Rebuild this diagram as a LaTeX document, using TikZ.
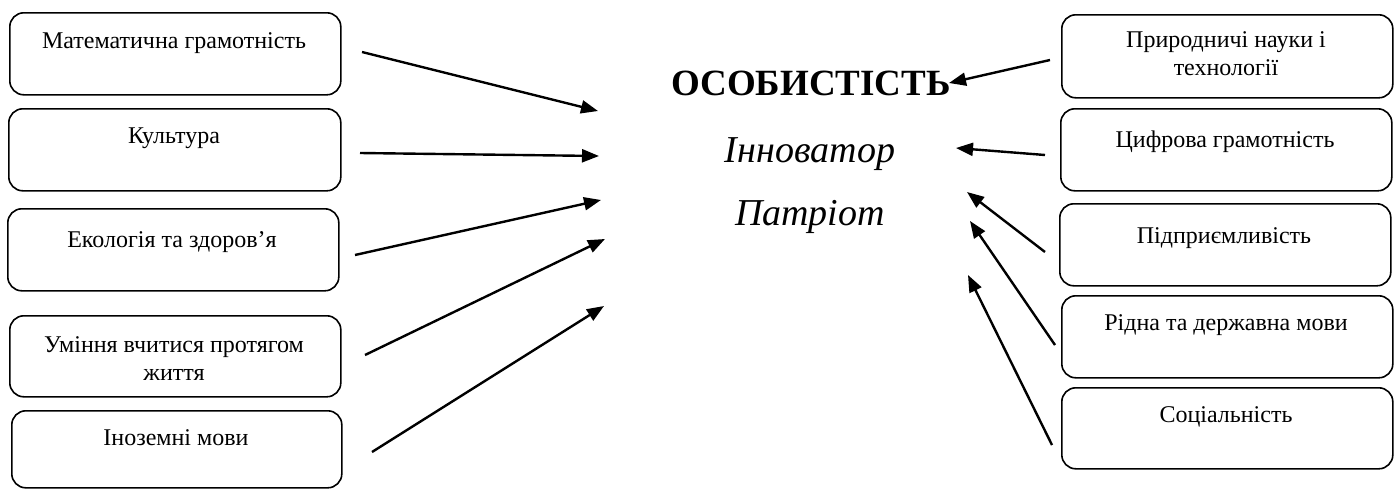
\documentclass[tikz,border=0pt]{standalone}
\usepackage{fontspec}
\setmainfont{Liberation Serif}
\usetikzlibrary{arrows.meta}
\begin{document}
\begin{tikzpicture}[x=1pt,y=-1pt,
  box/.style={draw, rounded corners=14pt, line width=1.6pt, inner sep=0pt, anchor=north west},
  lbl/.style={font=\fontsize{24}{28}\selectfont, inner sep=0pt, anchor=base, align=center},
  arr/.style={line width=2.4pt, -{Triangle[length=17pt,width=13pt]}},
  title/.style={font=\fontsize{37}{40}\selectfont\bfseries, inner sep=0pt, anchor=base},
  role/.style={font=\fontsize{38}{40}\selectfont\itshape, inner sep=0pt, anchor=base}]
\useasboundingbox (0,0) rectangle (1397,488);
% left boxes
\node[box, minimum width=331pt, minimum height=82pt] (L1) at (9,12) {};
\node[box, minimum width=332pt, minimum height=82pt] (L2) at (8,108) {};
\node[box, minimum width=331pt, minimum height=82pt] (L3) at (7,208) {};
\node[box, minimum width=331pt, minimum height=81pt] (L4) at (9,315) {};
\node[box, minimum width=330pt, minimum height=77pt] (L5) at (11,410) {};
% right boxes
\node[box, minimum width=331pt, minimum height=83pt] (R1) at (1061,14) {};
\node[box, minimum width=331pt, minimum height=82pt] (R2) at (1060,108) {};
\node[box, minimum width=331pt, minimum height=82pt] (R3) at (1059,203) {};
\node[box, minimum width=331pt, minimum height=82pt] (R4) at (1061,295) {};
\node[box, minimum width=331pt, minimum height=81pt] (R5) at (1061,387) {};
% labels
\node[lbl] (tL1) at (174,48) {Математична грамотність};
\node[lbl] (tL2) at (174,143) {Культура};
\node[lbl] (tL3) at (172,247) {Екологія та здоров’я};
\node[lbl] (tL4a) at (174,352) {Уміння вчитися протягом};
\node[lbl] (tL4b) at (174,380) {життя};
\node[lbl] (tL5) at (176,445) {Іноземні мови};
\node[lbl] (tR1a) at (1226,47) {Природничі науки і};
\node[lbl] (tR1b) at (1226,75) {технології};
\node[lbl] (tR2) at (1225,147) {Цифрова грамотність};
\node[lbl] (tR3) at (1224,243) {Підприємливість};
\node[lbl] (tR4) at (1226,330) {Рідна та державна мови};
\node[lbl] (tR5) at (1226,422) {Соціальність};
% centre
\node[title] (T) at (811,95) {ОСОБИСТІСТЬ};
\node[role] (I) at (810,162) {Інноватор};
\node[role] (P) at (810,225) {Патріот};
% arrow end points
\coordinate (a1) at (362,52);  \coordinate (b1) at (598,111);
\coordinate (a2) at (360,153); \coordinate (b2) at (599,156);
\coordinate (a3) at (355,255); \coordinate (b3) at (601,200);
\coordinate (a4) at (365,355); \coordinate (b4) at (605,239);
\coordinate (a5) at (372,452); \coordinate (b5) at (604,306);
\coordinate (c1) at (1050,60);  \coordinate (d1) at (949,83);
\coordinate (c2) at (1045,155); \coordinate (d2) at (956,148);
\coordinate (c3) at (1045,252); \coordinate (d3) at (967,192);
\coordinate (c4) at (1055,345); \coordinate (d4) at (970,221);
\coordinate (c5) at (1052,445); \coordinate (d5) at (968,275);
\foreach \i in {1,...,5} {
  \draw[arr] (a\i) -- (b\i);
  \draw[arr] (c\i) -- (d\i);
}
\end{tikzpicture}
\end{document}
